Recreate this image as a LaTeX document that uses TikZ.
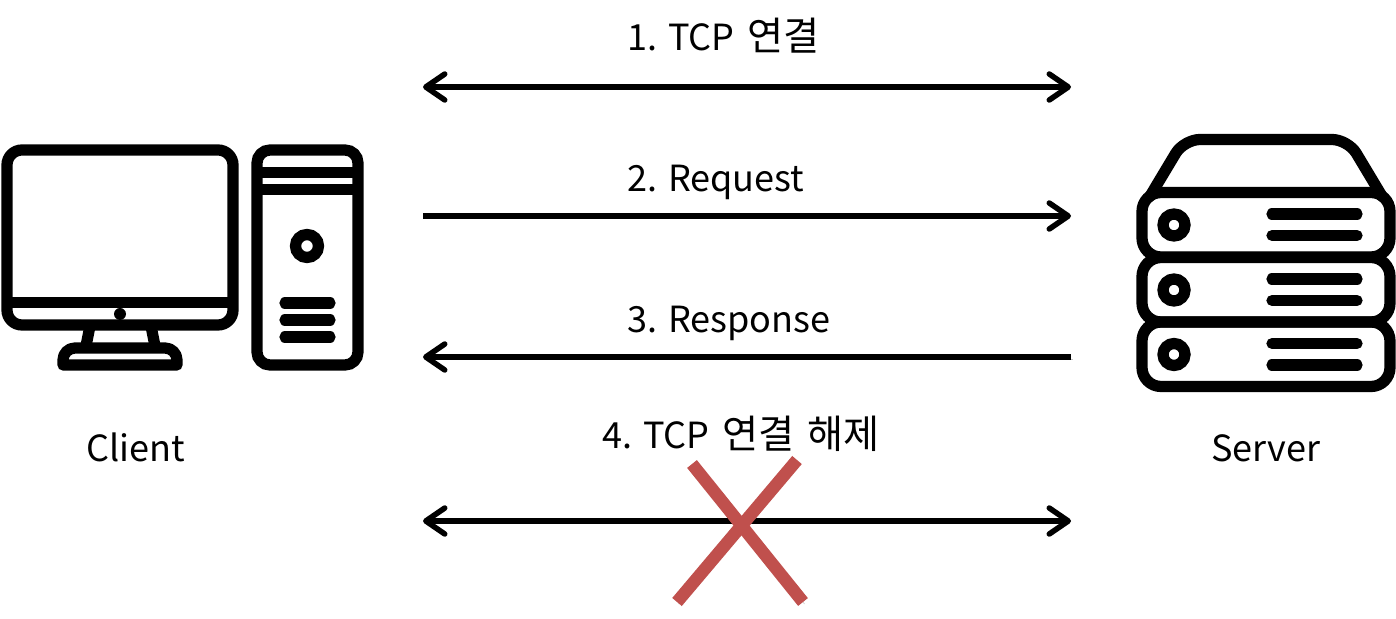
\documentclass[tikz,border=0pt]{standalone}
\usepackage{fontspec}
\setmainfont{Noto Sans CJK KR}
\newfontfamily\krfont[Scale=1.09,WordSpace=1.45]{Noto Sans CJK KR}
\usetikzlibrary{arrows.meta,positioning,calc}

\begin{document}
\begin{tikzpicture}[
  x=0.2mm, y=-0.2mm,
  softshadow/.style={preaction={draw=black!22, transform canvas={shift={(0.3mm,-0.4mm)}}}},
  flow/.style={softshadow, line width=1.1mm, {Straight Barb[length=3.8mm, width=5.2mm, round]}-{Straight Barb[length=3.8mm, width=5.2mm, round]}},
  oneway/.style={softshadow, line width=1.1mm, -{Straight Barb[length=3.8mm, width=5.2mm, round]}},
  icon/.style={draw, line width=2.25mm},
  bar/.style={draw, line width=2.25mm, line cap=round},
  lab/.style={font=\fontsize{20.5}{25}\selectfont, inner sep=0pt},
  cross/.style={draw=crossred, line width=2.5mm, preaction={draw=black!18, transform canvas={shift={(0.3mm,-0.4mm)}}}}
]
\definecolor{crossred}{HTML}{C0504D}
\def\xL{423} \def\xR{1071}
\useasboundingbox (0,0) rectangle (1396,619);

% client screen
\draw[icon] (90,326) -- (86,346);
\draw[icon] (151,326) -- (155,346);
\draw[icon, rounded corners=3mm] (7,150) rectangle (233,325);
\draw[icon] (7,302.5) -- (233,302.5);
\fill (120,314) circle (1.2mm);
\draw[icon, line join=round] (63,365) -- (63,362) [rounded corners=2.4mm] -- (63,348) -- (177,348) [sharp corners] -- (177,365) -- cycle;

% client tower
\draw[icon, rounded corners=2.6mm] (257,150) rectangle (358,365);
\draw[icon] (257,172.5) -- (358,172.5);
\draw[icon] (257,189.5) -- (358,189.5);
\draw[icon] (307,246) circle (2.3mm);
\foreach \y in {303,320,337}
  \draw[bar] (285,\y) -- (330,\y);

% server
\draw[icon, line cap=round, rounded corners=3.2mm] (1149.5,197) -- (1184,139.5) -- (1348,139.5) -- (1382.5,197);
\foreach \y in {192.5,257.5,322} {
  \draw[icon, rounded corners=3.8mm] (1142,\y) rectangle (1390,\y+64.5);
  \draw[icon] (1174,\y+32.5) circle (2.2mm);
  \draw[bar] (1272,\y+21.5) -- (1357,\y+21.5);
  \draw[bar] (1272,\y+43) -- (1357,\y+43);
}

\coordinate (a1) at (\xL,87);  \coordinate (b1) at (\xR,87);
\coordinate (a2) at (\xL,216); \coordinate (b2) at (\xR,216);
\coordinate (a3) at (\xL,357); \coordinate (b3) at (\xR,357);
\coordinate (a4) at (\xL,521); \coordinate (b4) at (\xR,521);
\draw[flow] (a1) -- (b1);
\draw[oneway] (a2) -- (b2);
\draw[oneway] (b3) -- (a3);
\draw[flow] (a4) -- (b4);

\node[lab, anchor=base west] (tcp) at (627,51) {1. TCP{\krfont{} 연결}};
\node[lab, anchor=base west] (req) at (627,192) {2. Request};
\node[lab, anchor=base west] (res) at (627,333) {3. Response};
\node[lab, anchor=base west] (fin) at (602,449) {4. TCP{\krfont{} 연결 해제}};
\node[lab, anchor=base] (client) at (136,462) {Client};
\node[lab, anchor=base] (server) at (1266,462) {Server};

\coordinate (c1) at (692,464); \coordinate (c2) at (803,602);
\coordinate (c3) at (797,460); \coordinate (c4) at (677,602);
\draw[cross] (c1) -- (c2);
\draw[cross] (c3) -- (c4);
\end{tikzpicture}
\end{document}
